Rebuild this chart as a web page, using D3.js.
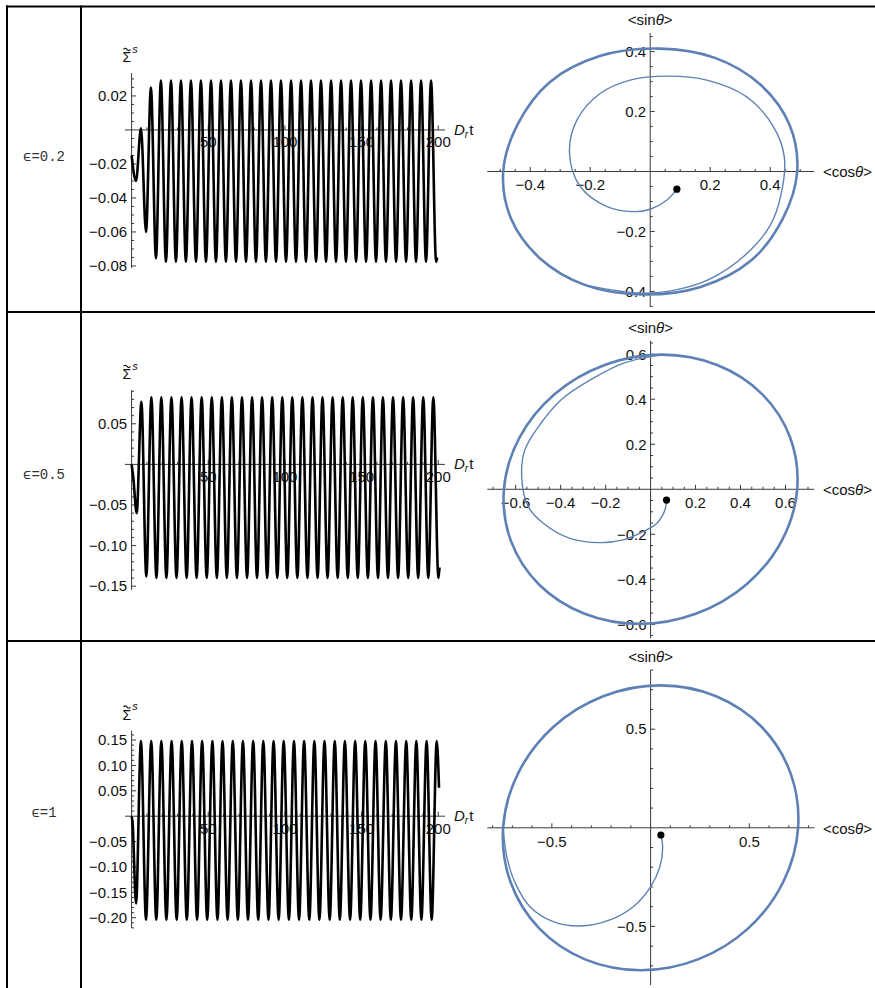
<!DOCTYPE html>
<html><head><meta charset="utf-8">
<script src="https://cdn.jsdelivr.net/npm/d3@7"></script>
<style>
body{margin:0;background:#fff;}
svg{display:block;}
text{font-family:"Liberation Sans",Arial,sans-serif;fill:#111;}
</style></head><body>
<svg id="c" width="875" height="988"></svg>
<script>
// ---------- data ----------
const rowLabels = ["ϵ=0.2", "ϵ=0.5", "ϵ=1"];

// Σ̃^s(t): extrema [t, value]
const sig02 = [[0,-0.015],[2.9,-0.030],[6.1,0.001],[9.4,-0.060],[12.6,0.025],[15.9,-0.0755],
[19.1,0.029],[22.4,-0.0775],[25.7,0.029],[28.9,-0.0775],[32.2,0.029],[35.4,-0.0775],[38.7,0.029],[42.0,-0.0775],[45.2,0.029],[48.5,-0.0775],[51.8,0.029],[55.0,-0.0775],[58.3,0.029],[61.5,-0.0775],[64.8,0.029],[68.1,-0.0775],[71.3,0.029],[74.6,-0.0775],[77.9,0.029],[81.1,-0.0775],[84.4,0.029],[87.6,-0.0775],[90.9,0.029],[94.2,-0.0775],[97.4,0.029],[100.7,-0.0775],[104.0,0.029],[107.2,-0.0775],[110.5,0.029],[113.7,-0.0775],[117.0,0.029],[120.3,-0.0775],[123.5,0.029],[126.8,-0.0775],[130.1,0.029],[133.3,-0.0775],[136.6,0.029],[139.8,-0.0775],[143.1,0.029],[146.4,-0.0775],[149.6,0.029],[152.9,-0.0775],[156.2,0.029],[159.4,-0.0775],[162.7,0.029],[165.9,-0.0775],[169.2,0.029],[172.5,-0.0775],[175.7,0.029],[179.0,-0.0775],[182.3,0.029],[185.5,-0.0775],[188.8,0.029],[192.0,-0.0775],[195.3,0.029],[198.6,-0.0775],[199.3,-0.075]];

const sig05 = [[0,0.0],[1.1,-0.016],[3.3,-0.060],[6.4,0.077],[9.6,-0.138],
[12.9,0.0825],[16.2,-0.140],[19.4,0.0825],[22.7,-0.140],[26.0,0.0825],[29.3,-0.140],[32.6,0.0825],[35.9,-0.140],[39.1,0.0825],[42.4,-0.140],[45.7,0.0825],[49.0,-0.140],[52.3,0.0825],[55.6,-0.140],[58.9,0.0825],[62.1,-0.140],[65.4,0.0825],[68.7,-0.140],[72.0,0.0825],[75.3,-0.140],[78.6,0.0825],[81.8,-0.140],[85.1,0.0825],[88.4,-0.140],[91.7,0.0825],[95.0,-0.140],[98.3,0.0825],[101.5,-0.140],[104.8,0.0825],[108.1,-0.140],[111.4,0.0825],[114.7,-0.140],[118.0,0.0825],[121.3,-0.140],[124.5,0.0825],[127.8,-0.140],[131.1,0.0825],[134.4,-0.140],[137.7,0.0825],[141.0,-0.140],[144.2,0.0825],[147.5,-0.140],[150.8,0.0825],[154.1,-0.140],[157.4,0.0825],[160.7,-0.140],[163.9,0.0825],[167.2,-0.140],[170.5,0.0825],[173.8,-0.140],[177.1,0.0825],[180.4,-0.140],[183.6,0.0825],[186.9,-0.140],[190.2,0.0825],[193.5,-0.140],[196.8,0.0825],[200.1,-0.140],[200.8,-0.127]];

const sig1 = [[0,0.0],[0.6,-0.012],[2.9,-0.172],[6.1,0.148],[9.4,-0.204],[12.8,0.148],[16.1,-0.204],[19.4,0.148],[22.7,-0.204],[26.1,0.148],[29.4,-0.204],[32.7,0.148],[36.0,-0.204],[39.4,0.148],[42.7,-0.204],[46.0,0.148],[49.3,-0.204],[52.7,0.148],[56.0,-0.204],[59.3,0.148],[62.6,-0.204],[66.0,0.148],[69.3,-0.204],[72.6,0.148],[75.9,-0.204],[79.3,0.148],[82.6,-0.204],[85.9,0.148],[89.3,-0.204],[92.6,0.148],[95.9,-0.204],[99.2,0.148],[102.6,-0.204],[105.9,0.148],[109.2,-0.204],[112.5,0.148],[115.9,-0.204],[119.2,0.148],[122.5,-0.204],[125.8,0.148],[129.2,-0.204],[132.5,0.148],[135.8,-0.204],[139.1,0.148],[142.5,-0.204],[145.8,0.148],[149.1,-0.204],[152.4,0.148],[155.8,-0.204],[159.1,0.148],[162.4,-0.204],[165.8,0.148],[169.1,-0.204],[172.4,0.148],[175.7,-0.204],[179.1,0.148],[182.4,-0.204],[185.7,0.148],[189.0,-0.204],[192.4,0.148],[195.7,-0.204],[199.0,0.148],[200.5,0.056]];

// tick labels
const timeTicks = [50, 100, 150, 200];
const sigTicks02 = [-0.08, -0.06, -0.04, -0.02, 0.02];
const sigTicks05 = [-0.15, -0.10, -0.05, 0.05];
const sigTicks1 = [-0.20, -0.15, -0.10, -0.05, 0.05, 0.10, 0.15];

// (<cosθ>, <sinθ>) trajectories: transient spiral and limit cycle
const tr02 = [[0.089,-0.059],[0.056,-0.095],[0.002,-0.125],[-0.05,-0.134],[-0.144,-0.117],[-0.233,-0.05],[-0.269,0.061],[-0.244,0.172],[-0.167,0.26],[-0.067,0.305],[0.056,0.318],[0.189,0.305],[0.322,0.249],[0.411,0.149],[0.447,0.049],[0.437,-0.073],[0.4,-0.18],[0.315,-0.28],[0.2,-0.358],[0.085,-0.395],[-0.03,-0.406],[-0.216,-0.379]];
const cyc02 = [[0.49,0],[0.464,0.157],[0.367,0.29],[0.216,0.379],[0.03,0.41],[-0.168,0.385],[-0.335,0.298],[-0.442,0.157],[-0.49,0],[-0.464,-0.157],[-0.367,-0.29],[-0.216,-0.379],[-0.03,-0.41],[0.168,-0.385],[0.335,-0.298],[0.442,-0.157]];
const dot02 = [0.089, -0.059];

const tr05 = [[0.071,-0.048],[0.064,-0.092],[0.027,-0.152],[-0.033,-0.188],[-0.122,-0.225],[-0.225,-0.237],[-0.359,-0.218],[-0.477,-0.151],[-0.544,-0.077],[-0.573,0.056],[-0.559,0.175],[-0.49,0.29],[-0.395,0.4],[-0.26,0.49],[-0.12,0.56],[0.05,0.598]];
const cyc05 = [[0.652,0],[0.621,0.229],[0.496,0.423],[0.296,0.552],[0.05,0.598],[-0.204,0.552],[-0.426,0.423],[-0.583,0.229],[-0.652,0],[-0.621,-0.229],[-0.496,-0.423],[-0.296,-0.552],[-0.05,-0.598],[0.204,-0.552],[0.426,-0.423],[0.583,-0.229]];
const dot05 = [0.071, -0.048];

const tr1 = [[0.052,-0.037],[0.061,-0.096],[0.047,-0.197],[0.0,-0.299],[-0.088,-0.4],[-0.206,-0.467],[-0.358,-0.498],[-0.493,-0.476],[-0.611,-0.4],[-0.685,-0.282],[-0.728,-0.147],[-0.747,0]];
const cyc1 = [[0.747,0],[0.709,0.276],[0.563,0.511],[0.332,0.667],[0.05,0.722],[-0.24,0.667],[-0.493,0.511],[-0.671,0.276],[-0.747,0],[-0.709,-0.276],[-0.563,-0.511],[-0.332,-0.667],[-0.05,-0.722],[0.24,-0.667],[0.493,-0.511],[0.671,-0.276]];
const dot1 = [0.052, -0.037];

const circTicks02 = [-0.4, -0.2, 0.2, 0.4];
const circTicks05 = [-0.6, -0.4, -0.2, 0.2, 0.4, 0.6];
const circTicks1 = [-0.5, 0.5];

// ---------- layout ----------
const svg = d3.select("#c");
const AX = "#3a3a3a", BLUE = "#5E81B5";

const left = [
  {data: sig02, yDom: [-0.0812, 0.0335], yRange: [268, 73], major: sigTicks02, minor: 0.005},
  {data: sig05, yDom: [-0.1547, 0.0916], yRange: [590, 390], major: sigTicks05, minor: 0.01},
  {data: sig1,  yDom: [-0.2202, 0.1684], yRange: [928, 730.7], major: sigTicks1, minor: 0.01}
];
const right = [
  {tr: tr02, cyc: cyc02, dot: dot02, xDom: [-0.543, 0.547], yDom: [-0.452, 0.462], yRange: [307, 33], major: circTicks02, minor: 0.05},
  {tr: tr05, cyc: cyc05, dot: dot05, xDom: [-0.726, 0.728], yDom: [-0.662, 0.66], yRange: [638.3, 340.7], major: circTicks05, minor: 0.05},
  {tr: tr1, cyc: cyc1, dot: dot1, xDom: [-0.827, 0.829], yDom: [-0.797, 0.80], yRange: [985, 670], major: circTicks1, minor: 0.1}
];
const labelY = [161, 479, 817];

const fmt2 = d3.format(".2f"), fmt1 = d3.format(".1f");

function minorTicks(lo, hi, step, majors) {
  const out = [];
  const start = Math.ceil(lo / step - 1e-9);
  for (let k = start; k * step <= hi + 1e-9; k++) {
    const v = +(k * step).toFixed(6);
    if (Math.abs(v) < 1e-9) continue;
    if (majors.some(m => Math.abs(m - v) < 1e-9)) continue;
    out.push(v);
  }
  return out;
}

// ---------- grid ----------
const grid = svg.append("g").attr("stroke", "#000").attr("stroke-width", 2);
grid.append("line").attr("x1", 6).attr("x2", 875).attr("y1", 6.5).attr("y2", 6.5);
grid.append("line").attr("x1", 7).attr("x2", 7).attr("y1", 5.5).attr("y2", 988);
grid.append("line").attr("x1", 81).attr("x2", 81).attr("y1", 5.5).attr("y2", 988);
grid.append("line").attr("x1", 6).attr("x2", 875).attr("y1", 312).attr("y2", 312);
grid.append("line").attr("x1", 6).attr("x2", 875).attr("y1", 641).attr("y2", 641);

rowLabels.forEach((t, i) => {
  svg.append("text").attr("x", 44).attr("y", labelY[i]).attr("text-anchor", "middle")
    .style("font-family", "'Liberation Mono','DejaVu Sans Mono',monospace").style("font-size", "14px")
    .style("fill", "#333").text(t);
});

// ---------- left panels ----------
const tx = d3.scaleLinear().domain([-4.3, 204.4]).range([125, 445]);
left.forEach(p => {
  const ys = d3.scaleLinear().domain(p.yDom).range(p.yRange);
  const g = svg.append("g");
  const y0 = ys(0), x0 = tx(0);
  g.append("line").attr("x1", tx(-4.3)).attr("x2", tx(204.4)).attr("y1", y0).attr("y2", y0)
    .attr("stroke", AX).attr("stroke-width", 1);
  g.append("line").attr("x1", x0).attr("x2", x0).attr("y1", ys(p.yDom[0])).attr("y2", ys(p.yDom[1]))
    .attr("stroke", AX).attr("stroke-width", 1);
  timeTicks.forEach(t => {
    g.append("line").attr("x1", tx(t)).attr("x2", tx(t)).attr("y1", y0).attr("y2", y0 - 4.5).attr("stroke", AX);
    g.append("text").attr("x", tx(t)).attr("y", y0 + 17.5).attr("text-anchor", "middle")
      .style("font-size", "15px").text(t);
  });
  minorTicks(0, 204, 10, timeTicks).forEach(t => {
    g.append("line").attr("x1", tx(t)).attr("x2", tx(t)).attr("y1", y0).attr("y2", y0 - 2.5).attr("stroke", AX);
  });
  p.major.forEach(v => {
    g.append("line").attr("x1", x0).attr("x2", x0 + 4.5).attr("y1", ys(v)).attr("y2", ys(v)).attr("stroke", AX);
    g.append("text").attr("x", x0 - 4.5).attr("y", ys(v) + 5.3).attr("text-anchor", "end")
      .style("font-size", "15px").text(fmt2(v));
  });
  minorTicks(p.yDom[0], p.yDom[1], p.minor, p.major).forEach(v => {
    g.append("line").attr("x1", x0).attr("x2", x0 + 2.5).attr("y1", ys(v)).attr("y2", ys(v)).attr("stroke", AX);
  });
  // axis label: Σ with tilde accent and superscript s
  const B = ys(p.yDom[1]) - 11;
  const sl = g.append("text").attr("x", 122.5).attr("y", B).style("font-size", "14px");
  sl.append("tspan").text("Σ");
  sl.append("tspan").attr("dx", 1).attr("dy", -9.5).style("font-size", "11px").style("font-style", "italic").text("s");
  g.append("path")
    .attr("d", `M${123.6},${B - 12.6} q1.7,-2.4 3.4,0 t3.4,0`)
    .attr("fill", "none").attr("stroke", "#111").attr("stroke-width", 1.1);
  const lt = g.append("text").attr("x", 454).attr("y", y0 + 5).style("font-size", "15px");
  lt.append("tspan").style("font-style", "italic").text("D");
  lt.append("tspan").attr("dy", 3).style("font-size", "10px").style("font-style", "italic").text("r");
  lt.append("tspan").attr("dy", -3).attr("dx", 1).text("t");
  g.append("path").datum(p.data)
    .attr("d", d3.line().x(d => tx(d[0])).y(d => ys(d[1])).curve(d3.curveMonotoneX))
    .attr("fill", "none").attr("stroke", "#000").attr("stroke-width", 2.6).attr("stroke-linejoin", "round");
});

// ---------- right panels ----------
right.forEach(p => {
  const xs = d3.scaleLinear().domain(p.xDom).range([487.3, 814.3]);
  const ys = d3.scaleLinear().domain(p.yDom).range(p.yRange);
  const g = svg.append("g");
  const x0 = xs(0), y0 = ys(0);
  g.append("line").attr("x1", xs(p.xDom[0])).attr("x2", xs(p.xDom[1])).attr("y1", y0).attr("y2", y0)
    .attr("stroke", AX).attr("stroke-width", 1);
  g.append("line").attr("x1", x0).attr("x2", x0).attr("y1", ys(p.yDom[0])).attr("y2", ys(p.yDom[1]))
    .attr("stroke", AX).attr("stroke-width", 1);
  p.major.forEach(v => {
    g.append("line").attr("x1", xs(v)).attr("x2", xs(v)).attr("y1", y0).attr("y2", y0 - 4.5).attr("stroke", AX);
    g.append("text").attr("x", xs(v)).attr("y", y0 + 19).attr("text-anchor", "middle")
      .style("font-size", "15px").text(fmt1(v));
    g.append("line").attr("x1", x0).attr("x2", x0 + 4.5).attr("y1", ys(v)).attr("y2", ys(v)).attr("stroke", AX);
    g.append("text").attr("x", x0 - 4).attr("y", ys(v) + 5.3).attr("text-anchor", "end")
      .style("font-size", "15px").text(fmt1(v));
  });
  minorTicks(p.xDom[0], p.xDom[1], p.minor, p.major).forEach(v => {
    g.append("line").attr("x1", xs(v)).attr("x2", xs(v)).attr("y1", y0).attr("y2", y0 - 2.5).attr("stroke", AX);
  });
  minorTicks(p.yDom[0], p.yDom[1], p.minor, p.major).forEach(v => {
    g.append("line").attr("x1", x0).attr("x2", x0 + 2.5).attr("y1", ys(v)).attr("y2", ys(v)).attr("stroke", AX);
  });
  const st = g.append("text").attr("x", x0).attr("y", ys(p.yDom[1]) - 8).attr("text-anchor", "middle").style("font-size", "15px");
  st.append("tspan").text("<sin");
  st.append("tspan").style("font-style", "italic").text("θ");
  st.append("tspan").text(">");
  const ct = g.append("text").attr("x", 823).attr("y", y0 + 6).style("font-size", "15px");
  ct.append("tspan").text("<cos");
  ct.append("tspan").style("font-style", "italic").text("θ");
  ct.append("tspan").text(">");
  g.append("path").datum(p.cyc)
    .attr("d", d3.line().x(d => xs(d[0])).y(d => ys(d[1])).curve(d3.curveCatmullRomClosed.alpha(0.5)))
    .attr("fill", "none").attr("stroke", BLUE).attr("stroke-width", 2.6);
  g.append("path").datum(p.tr)
    .attr("d", d3.line().x(d => xs(d[0])).y(d => ys(d[1])).curve(d3.curveCatmullRom.alpha(0.5)))
    .attr("fill", "none").attr("stroke", BLUE).attr("stroke-width", 1.4);
  g.append("circle").attr("cx", xs(p.dot[0])).attr("cy", ys(p.dot[1])).attr("r", 3.6).attr("fill", "#000");
});
</script>
</body></html>
